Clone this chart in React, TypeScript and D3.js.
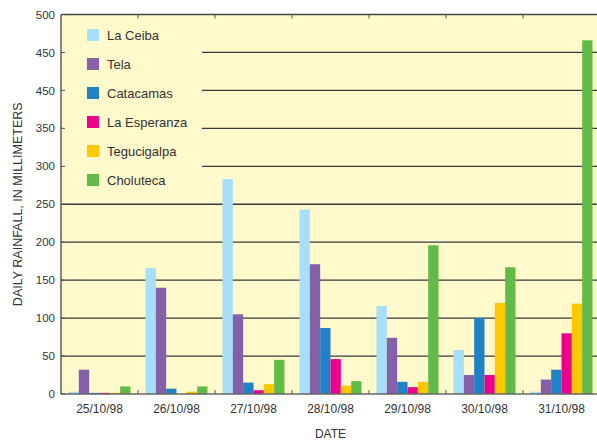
import React from "react";
import * as d3 from "d3";

const dates = ["25/10/98", "26/10/98", "27/10/98", "28/10/98", "29/10/98", "30/10/98", "31/10/98"];
const seriesNames = ["La Ceiba", "Tela", "Catacamas", "La Esperanza", "Tegucigalpa", "Choluteca"];
const seriesColors = ["#a6dff7", "#8560a8", "#1f82c6", "#ec008c", "#ffc800", "#62bb46"];
const laCeiba = [3, 166, 283, 243, 116, 58, 3];
const tela = [32, 140, 105, 171, 74, 25, 19];
const catacamas = [1.5, 7, 15, 87, 16, 100, 32];
const laEsperanza = [1.5, 0, 5, 46, 9, 25, 80];
const tegucigalpa = [1.5, 3, 13, 11, 16, 120, 119];
const choluteca = [10, 10, 45, 17, 196, 167, 466];
const yTickValues = [0, 50, 100, 150, 200, 250, 300, 350, 400, 450, 500];
const yTickLabels = ["0", "50", "100", "150", "200", "250", "300", "350", "450", "450", "500"];

const seriesValues = [laCeiba, tela, catacamas, laEsperanza, tegucigalpa, choluteca];

const W = 597;
const H = 442;
const left = 61;
const right = 600;
const top = 14.5;
const bottom = 394;
const font = "'Liberation Sans', Arial, sans-serif";
const bg = "#fff9cc";

export default function App() {
  const x0 = d3.scaleBand<string>().domain(dates).range([left, right]).padding(0);
  const bw = x0.bandwidth();
  const x1 = d3.scaleBand<string>().domain(seriesNames).range([7.5, bw - 7.5]).padding(0);
  const y = d3.scaleLinear().domain([0, 500]).range([bottom, top]);

  return (
    <svg width={W} height={H} style={{ position: "absolute", left: 0, top: 0 }} fontFamily={font}>
      <rect x={left} y={top} width={right - left} height={bottom - top} fill={bg} />
      {yTickValues.filter((v) => v > 0 && v < 500).map((v) => (
        <line key={"g" + v} x1={left} x2={right} y1={y(v)} y2={y(v)} stroke="#3a3a3a" strokeWidth={1.3} />
      ))}
      {/* legend backdrop */}
      <rect x={left + 1} y={top + 1} width={202 - left - 1} height={200 - top} fill={bg} />
      {seriesNames.map((s, si) => (
        <g key={s}>
          {dates.map((d, di) => {
            const v = seriesValues[si][di];
            if (v <= 0) return null;
            return (
              <rect
                key={d}
                x={(x0(d) as number) + (x1(s) as number)}
                y={y(v)}
                width={x1.bandwidth()}
                height={bottom - y(v)}
                fill={seriesColors[si]}
              />
            );
          })}
        </g>
      ))}
      {/* axes */}
      <line x1={left} x2={right} y1={top} y2={top} stroke="#444" strokeWidth={1.3} />
      <line x1={left} x2={right} y1={bottom} y2={bottom} stroke="#666" strokeWidth={1.3} />
      <line x1={left} x2={left} y1={top} y2={bottom} stroke="#444" strokeWidth={1.3} />
      {dates.slice(1).map((d) => (
        <g key={"t" + d}>
          <line x1={x0(d)} x2={x0(d)} y1={top} y2={top + 4} stroke="#555" strokeWidth={1} />
          <line x1={x0(d)} x2={x0(d)} y1={bottom} y2={bottom - 4} stroke="#555" strokeWidth={1} />
        </g>
      ))}
      {yTickValues.map((v, i) => (
        <g key={"y" + v}>
          <line x1={left} x2={left + 4} y1={y(v)} y2={y(v)} stroke="#555" strokeWidth={1} />
          <text x={55} y={y(v)} dy="0.36em" textAnchor="end" fontSize={11.5} fill="#333">
            {yTickLabels[i]}
          </text>
        </g>
      ))}
      {dates.map((d) => (
        <text key={"x" + d} x={(x0(d) as number) + bw / 2} y={413} textAnchor="middle" fontSize={12} fill="#333">
          {d}
        </text>
      ))}
      <text x={(left + right) / 2} y={438} textAnchor="middle" fontSize={12} fill="#333">
        DATE
      </text>
      <text
        transform={`translate(22,${(top + bottom) / 2}) rotate(-90)`}
        textAnchor="middle"
        fontSize={12.5}
        fill="#333"
      >
        DAILY RAINFALL, IN MILLIMETERS
      </text>
      {seriesNames.map((s, i) => (
        <g key={"l" + s} transform={`translate(87,${29 + i * 29})`}>
          <rect width={12} height={12} fill={seriesColors[i]} />
          <text x={20} y={6} dy="0.36em" fontSize={13} fill="#333">
            {s}
          </text>
        </g>
      ))}
    </svg>
  );
}
